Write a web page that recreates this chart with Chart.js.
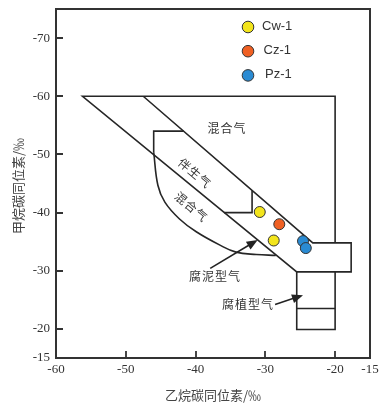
<!DOCTYPE html>
<html lang="zh">
<head>
<meta charset="UTF-8">
<title>甲烷-乙烷碳同位素判别图</title>
<script src="https://cdn.jsdelivr.net/npm/chart.js"></script>
<style>
    html, body { margin: 0; padding: 0; background: #fff; }
</style>
</head>
<body>
<canvas id="isoChart" width="384" height="405"></canvas>
<script>
    // sample points, [ethane d13C, methane d13C]
    const wellNames = ['Cw-1', 'Cz-1', 'Pz-1'];
    const cw1 = [[-30.8, -40.1], [-28.8, -35.2]];
    const cz1 = [[-28.0, -38.0]];
    const pz1 = [[-24.6, -35.1], [-24.2, -33.9]];
    const wellColors = ['#f3e51c', '#ef6023', '#2a8bd3'];

    const xTicks = [-60, -50, -40, -30, -20, -15];
    const yTicks = [-70, -60, -50, -40, -30, -20, -15];

    // zone boundaries
    const outerZone = [[-47.5, -60], [-23.2, -34.8], [-17.7, -34.8], [-17.7, -29.8], [-25.5, -29.8],
                       [-56.2, -60], [-20, -60], [-20, -34.8]];
    const humicBox = [[-25.5, -29.8], [-25.5, -19.9], [-20, -19.9], [-20, -29.8]];
    const humicSplit = [[-25.5, -23.5], [-20, -23.5]];
    const mixedTop = [[-41.7, -54], [-46, -54], [-46, -50.4]];
    const mixedCurve = [[-46, -50.4], [-45.4, -44.7], [-44.4, -41.8], [-42.3, -38.9], [-39.9, -36.7],
                        [-36.5, -34.4], [-34.2, -33.2], [-31.3, -32.8], [-28.5, -32.65]];
    const assocStep = [[-31.9, -43.8], [-31.9, -40], [-35.9, -40]];

    const zoneLabels = [
        { text: '混合气', x: -35.5, y: -54.4, angle: 0 },
        { text: '伴生气', x: -40.1, y: -46.8, angle: 40 },
        { text: '混合气', x: -40.6, y: -41.0, angle: 40 },
        { text: '腐泥型气', x: -37.2, y: -29.0, angle: 0 },
        { text: '腐植型气', x: -32.5, y: -24.2, angle: 0 }
    ];
    const arrows = [
        { from: [-37.9, -30.4], to: [-31.1, -35.3] },
        { from: [-28.6, -24.2], to: [-24.6, -25.8] }
    ];

    const toXY = arr => arr.map(p => ({ x: p[0], y: p[1] }));
    const lineColor = '#262626';

    function zone(data, curved) {
        return {
            type: 'scatter', data: toXY(data), showLine: true, fill: false,
            borderColor: lineColor, borderWidth: 1.6, pointRadius: 0,
            tension: curved ? 0.4 : 0, order: 2
        };
    }

    const pointSets = [cw1, cz1, pz1].map((d, i) => ({
        label: wellNames[i], data: toXY(d), showLine: false,
        backgroundColor: wellColors[i], borderColor: '#333', borderWidth: 1,
        pointRadius: 5.5, order: 0
    }));

    function arrowTo(ctx, x1, y1, x2, y2) {
        const a = Math.atan2(y2 - y1, x2 - x1);
        ctx.beginPath();
        ctx.moveTo(x1, y1);
        ctx.lineTo(x2 - 6 * Math.cos(a), y2 - 6 * Math.sin(a));
        ctx.stroke();
        ctx.beginPath();
        ctx.moveTo(x2, y2);
        ctx.lineTo(x2 - 11 * Math.cos(a) + 4.5 * Math.sin(a), y2 - 11 * Math.sin(a) - 4.5 * Math.cos(a));
        ctx.lineTo(x2 - 11 * Math.cos(a) - 4.5 * Math.sin(a), y2 - 11 * Math.sin(a) + 4.5 * Math.cos(a));
        ctx.closePath();
        ctx.fill();
    }

    const decor = {
        id: 'decor',
        afterDatasetsDraw(chart) {
            const ctx = chart.ctx;
            const a = chart.chartArea;
            const xs = chart.scales.x, ys = chart.scales.y;
            ctx.save();

            // frame and inward tick marks
            ctx.strokeStyle = '#333';
            ctx.lineWidth = 2;
            ctx.strokeRect(a.left, a.top, a.right - a.left, a.bottom - a.top);
            ctx.lineWidth = 1.8;
            ctx.beginPath();
            xTicks.forEach(v => {
                const px = Math.round(xs.getPixelForValue(v));
                ctx.moveTo(px, a.bottom); ctx.lineTo(px, a.bottom - 7);
            });
            yTicks.forEach(v => {
                const py = Math.round(ys.getPixelForValue(v));
                ctx.moveTo(a.left, py); ctx.lineTo(a.left + 7, py);
            });
            ctx.stroke();

            // zone labels
            ctx.fillStyle = '#333';
            ctx.font = '12px "Noto Sans CJK SC"';
            ctx.textAlign = 'center';
            ctx.textBaseline = 'middle';
            ctx.letterSpacing = '1px';
            zoneLabels.forEach(l => {
                ctx.save();
                ctx.translate(xs.getPixelForValue(l.x), ys.getPixelForValue(l.y));
                ctx.rotate(l.angle * Math.PI / 180);
                ctx.fillText(l.text, 0, 0);
                ctx.restore();
            });

            // arrows
            ctx.strokeStyle = '#222';
            ctx.fillStyle = '#222';
            ctx.lineWidth = 1.6;
            arrows.forEach(r => {
                arrowTo(ctx, xs.getPixelForValue(r.from[0]), ys.getPixelForValue(r.from[1]),
                        xs.getPixelForValue(r.to[0]), ys.getPixelForValue(r.to[1]));
            });

            // legend
            ctx.letterSpacing = '0px';
            ctx.font = '13px "Liberation Sans", Arial, sans-serif';
            ctx.textAlign = 'left';
            pointSets.forEach((ds, i) => {
                const cy = 27 + i * 24.2;
                ctx.beginPath();
                ctx.arc(248, cy, 5.8, 0, Math.PI * 2);
                ctx.fillStyle = ds.backgroundColor;
                ctx.fill();
                ctx.strokeStyle = '#333';
                ctx.lineWidth = 1;
                ctx.stroke();
                ctx.fillStyle = '#333';
                ctx.fillText(ds.label, 262 + i * 1.5, cy - 1);
            });

            // axis titles
            ctx.font = '13px "Noto Sans CJK SC"';
            ctx.textAlign = 'center';
            ctx.fillStyle = '#444';
            ctx.fillText('乙烷碳同位素/‰', (a.left + a.right) / 2, 395);
            ctx.save();
            ctx.translate(18, 186);
            ctx.rotate(-Math.PI / 2);
            ctx.fillText('甲烷碳同位素/‰', 0, 0);
            ctx.restore();

            ctx.restore();
        }
    };

    const tickFont = { family: '"Liberation Serif", "Times New Roman", serif', size: 13 };

    new Chart(document.getElementById('isoChart').getContext('2d'), {
        type: 'scatter',
        data: {
            datasets: [
                ...pointSets,
                zone(outerZone), zone(humicBox), zone(humicSplit),
                zone(mixedTop), zone(mixedCurve, true), zone(assocStep)
            ]
        },
        options: {
            responsive: false,
            animation: false,
            layout: { padding: { left: 0, right: 14, top: 9, bottom: 0 } },
            plugins: { legend: { display: false }, tooltip: { enabled: false } },
            scales: {
                x: {
                    type: 'linear', min: -60, max: -15,
                    afterBuildTicks: s => { s.ticks = xTicks.map(v => ({ value: v })); },
                    afterFit: s => { s.height = 47; s.paddingLeft = 0; s.paddingRight = 0; },
                    grid: { display: false, drawTicks: false },
                    border: { display: false },
                    ticks: { font: tickFont, color: '#333', padding: 4, maxRotation: 0, autoSkip: false }
                },
                y: {
                    type: 'linear', min: -75, max: -15, reverse: true,
                    afterBuildTicks: s => { s.ticks = yTicks.map(v => ({ value: v })); },
                    afterFit: s => { s.width = 56; s.paddingTop = 0; s.paddingBottom = 0; },
                    grid: { display: false, drawTicks: false },
                    border: { display: false },
                    ticks: { font: tickFont, color: '#333', padding: 6, autoSkip: false }
                }
            }
        },
        plugins: [decor]
    });
</script>
</body>
</html>
